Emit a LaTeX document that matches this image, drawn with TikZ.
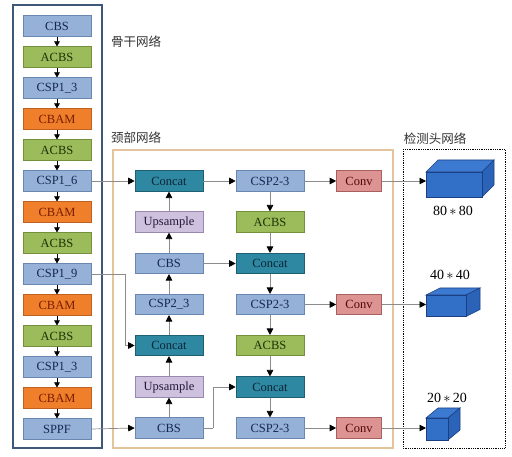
\documentclass[tikz,border=0pt]{standalone}
\usepackage{fontspec}
\setmainfont{Liberation Serif}
\newfontfamily\cjk{Noto Sans CJK SC}
\usetikzlibrary{arrows.meta}
\definecolor{cbsF}{HTML}{95B1D8}\definecolor{cbsD}{HTML}{6A87B2}\definecolor{cbsT}{HTML}{15284F}
\definecolor{acbsF}{HTML}{9CBB5A}\definecolor{acbsD}{HTML}{74903C}\definecolor{acbsT}{HTML}{1C3508}
\definecolor{cbamF}{HTML}{F07F2C}\definecolor{cbamD}{HTML}{BF6120}\definecolor{cbamT}{HTML}{7A1C00}
\definecolor{catF}{HTML}{2F88A2}\definecolor{catD}{HTML}{1F5F72}\definecolor{catT}{HTML}{0A2536}
\definecolor{upF}{HTML}{CDC1DE}\definecolor{upD}{HTML}{9887AE}\definecolor{upT}{HTML}{261838}
\definecolor{convF}{HTML}{DC9392}\definecolor{convD}{HTML}{A66060}\definecolor{convT}{HTML}{520808}
\definecolor{bbline}{HTML}{3D5878}\definecolor{neckline}{HTML}{E4C49C}
\definecolor{cubeF}{HTML}{3270C8}\definecolor{cubeT}{HTML}{3C7AD2}\definecolor{cubeR}{HTML}{2B63B8}\definecolor{cubeD}{HTML}{1B3F80}
\definecolor{lbl}{HTML}{333333}
% #1,#2: front top-left x,y ; #3 w ; #4 h ; #5 dx ; #6 dy
\newcommand\drawcube[6]{%
  \filldraw[draw=cubeD,fill=cubeT,line width=0.6pt] (#1,#2) -- ++(#5,-#6) -- ++(#3,0) -- ++(-#5,#6) -- cycle;
  \filldraw[draw=cubeD,fill=cubeR,line width=0.6pt] (#1+#3,#2) -- ++(#5,-#6) -- ++(0,#4) -- ++(-#5,#6) -- cycle;
  \filldraw[draw=cubeD,fill=cubeF,line width=0.6pt] (#1,#2) rectangle ++(#3,#4);
}
\begin{document}
\begin{tikzpicture}[x=1pt,y=-1pt,
  box/.style={minimum width=68pt,minimum height=20.5pt,inner sep=0pt,line width=0.6pt,font=\fontsize{12.5}{13}\selectfont},
  cbs/.style={box,fill=cbsF,draw=cbsD,text=cbsT},
  acbs/.style={box,fill=acbsF,draw=acbsD,text=acbsT},
  cbam/.style={box,fill=cbamF,draw=cbamD,text=cbamT},
  cat/.style={box,fill=catF,draw=catD,text=catT},
  ups/.style={box,fill=upF,draw=upD,text=upT},
  conv/.style={box,minimum width=45pt,fill=convF,draw=convD,text=convT},
  bbarrow/.style={draw=black,line width=0.6pt,-{Triangle[length=5pt,width=5.5pt]}},
  conn/.style={draw=gray!90,line width=0.7pt,-{Triangle[length=6.5pt,width=6.5pt,color=black]}},
  line/.style={draw=gray!90,line width=0.7pt},
  zh/.style={font=\cjk\fontsize{12.5}{13}\selectfont,text=lbl,inner sep=0pt},
  sz/.style={font=\fontsize{14}{15}\selectfont,text=black,inner sep=0pt}]
\useasboundingbox (0,0) rectangle (512,457);
\fill[white] (0,0) rectangle (512,457);
% frames
\draw[bbline,line width=1.3pt] (13,5) rectangle (102,448);
\draw[neckline,line width=1.8pt] (113,150) rectangle (393,448);
\draw[black,line width=0.8pt,densely dotted] (403,149) rectangle (505,448);
\node[zh] (t1) at (136,42) {骨干网络};
\node[zh] (t2) at (136,138) {颈部网络};
\node[zh] (t3) at (435,139) {检测头网络};
% backbone
\node[cbs]  (b0)  at (57,26)  {CBS};
\node[acbs] (b1)  at (57,57)  {ACBS};
\node[cbs]  (b2)  at (57,88)  {CSP1\_3};
\node[cbam] (b3)  at (57,119) {CBAM};
\node[acbs] (b4)  at (57,150) {ACBS};
\node[cbs]  (b5)  at (57,181) {CSP1\_6};
\node[cbam] (b6)  at (57,212) {CBAM};
\node[acbs] (b7)  at (57,243) {ACBS};
\node[cbs]  (b8)  at (57,274) {CSP1\_9};
\node[cbam] (b9)  at (57,305) {CBAM};
\node[acbs] (b10) at (57,336) {ACBS};
\node[cbs]  (b11) at (57,367) {CSP1\_3};
\node[cbam] (b12) at (57,398) {CBAM};
\node[cbs]  (b13) at (57,429) {SPPF};
\foreach \i [evaluate=\i as \j using int(\i+1)] in {0,...,12}
  \draw[bbarrow] (b\i.south) -- (b\j.north);
% neck column 1
\node[cat]  (n1) at (169,181)   {Concat};
\node[ups]  (n2) at (169,222)   {Upsample};
\node[cbs]  (n3) at (169,263.5) {CBS};
\node[cbs]  (n4) at (169,304.5) {CSP2\_3};
\node[cat]  (n5) at (169,345.5) {Concat};
\node[ups]  (n6) at (169,387)   {Upsample};
\node[cbs]  (n7) at (169,428)   {CBS};
% neck column 2
\node[cbs]  (m1) at (270,181)   {CSP2-3};
\node[acbs] (m2) at (270,222)   {ACBS};
\node[cat]  (m3) at (270,263.5) {Concat};
\node[cbs]  (m4) at (270,304.5) {CSP2-3};
\node[acbs] (m5) at (270,345.5) {ACBS};
\node[cat]  (m6) at (270,387)   {Concat};
\node[cbs]  (m7) at (270,428)   {CSP2-3};
% conv
\node[conv] (c1) at (359,181)   {Conv};
\node[conv] (c2) at (359,304.5) {Conv};
\node[conv] (c3) at (359,428)   {Conv};
% cubes
\drawcube{426}{172}{56}{25}{12}{12}
\drawcube{426}{295}{40}{21.5}{14}{7}
\drawcube{426}{418}{22}{22}{12}{10}
\coordinate (h1) at (426,181);
\coordinate (h2) at (426,304.5);
\coordinate (h3) at (426,428);
\node[sz] (s1) at (453,211) {80\,$\ast$\,80};
\node[sz] (s2) at (450,275) {40\,$\ast$\,40};
\node[sz] (s3) at (447,398) {20\,$\ast$\,20};
% connectors
\draw[conn] (b5.east) -- (n1.west);
\coordinate (k1) at (125,274);
\draw[line] (b8.east) -- (k1);
\draw[conn] (k1) |- (n5.west);
\draw[conn] (b13.east) -- (n7.west);
\draw[conn] (n7.north) -- (n6.south);
\draw[conn] (n6.north) -- (n5.south);
\draw[conn] (n5.north) -- (n4.south);
\draw[conn] (n4.north) -- (n3.south);
\draw[conn] (n3.north) -- (n2.south);
\draw[conn] (n2.north) -- (n1.south);
\draw[conn] (n1.east) -- (m1.west);
\draw[conn] (n3.east) -- (m3.west);
\coordinate (k2) at (213,428);
\draw[line] (n7.east) -- (k2);
\draw[conn] (k2) |- (m6.west);
\draw[conn] (m1.south) -- (m2.north);
\draw[conn] (m2.south) -- (m3.north);
\draw[conn] (m3.south) -- (m4.north);
\draw[conn] (m4.south) -- (m5.north);
\draw[conn] (m5.south) -- (m6.north);
\draw[conn] (m6.south) -- (m7.north);
\draw[conn] (m1.east) -- (c1.west);
\draw[conn] (m4.east) -- (c2.west);
\draw[conn] (m7.east) -- (c3.west);
\draw[conn] (c1.east) -- (h1);
\draw[conn] (c2.east) -- (h2);
\draw[conn] (c3.east) -- (h3);
\end{tikzpicture}
\end{document}
